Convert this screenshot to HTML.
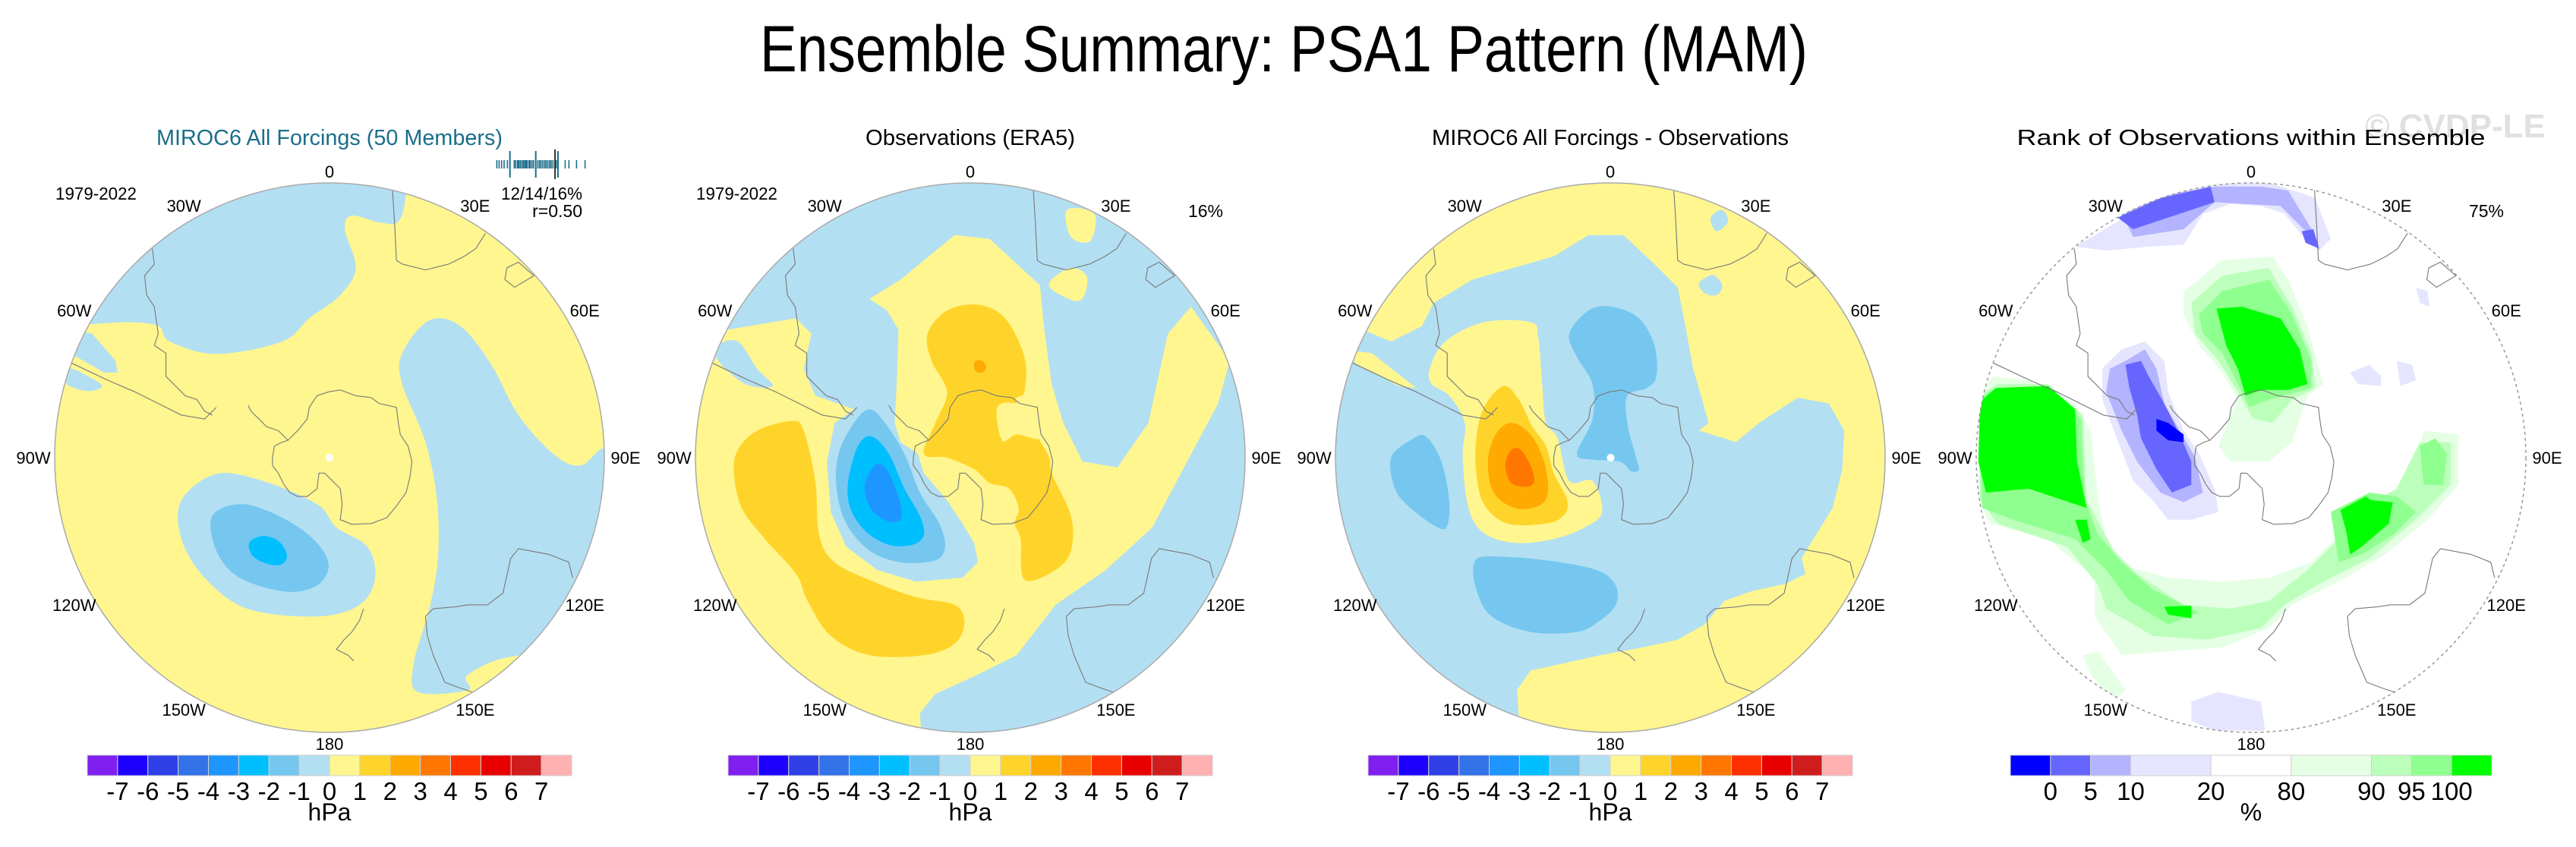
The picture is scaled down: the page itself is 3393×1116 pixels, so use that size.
<!DOCTYPE html>
<html><head><meta charset="utf-8"><title>Ensemble Summary: PSA1 Pattern (MAM)</title>
<style>html,body{margin:0;padding:0;background:#fff}svg{display:block}text{font-family:"Liberation Sans",sans-serif}</style>
</head><body>
<svg id="fig" width="3393" height="1116" viewBox="0 0 3393 1116" xmlns="http://www.w3.org/2000/svg">
<rect width="3393" height="1116" fill="#fff"/>
<text x="1691" y="94" font-size="86" text-anchor="middle" textLength="1380" lengthAdjust="spacingAndGlyphs">Ensemble Summary: PSA1 Pattern (MAM)</text>
<text x="3234" y="181" font-size="44" font-weight="bold" fill="#e0e0e0" text-anchor="middle">© CVDP-LE</text>
<g id="panels"></g>
</svg>
<script>
// ---- data arrays ----
const hpaLabels = ["-7","-6","-5","-4","-3","-2","-1","0","1","2","3","4","5","6","7"];
const hpaColors = ["#8020f0","#1e00ff","#2f40e8","#3472ea","#1e96ff","#00bfff","#75c7f0","#b3dff2","#fff68f","#ffd42a","#ffaa00","#ff7700","#ff3000","#e80000","#cf1c1c","#ffb0b0"];
const rankLabels = ["0","5","10","20","80","90","95","100"];
const rankUnits = [1,1,1,2,2,2,1,1,1];
const rankColors = ["#0000ff","#6666ff","#b3b3ff","#e5e5ff","#ffffff","#e5ffe5","#bbffbb","#8fff8f","#00ff00"];
const memberValues = [0.096,0.116,0.138,0.160,0.189,0.249,0.262,0.278,0.289,0.302,0.316,0.329,0.340,0.351,0.362,0.378,0.389,0.404,0.418,0.456,0.471,0.484,0.5,0.516,0.529,0.544,0.560,0.573,0.589,0.618,0.696,0.729,0.796,0.871];
const summaryValues = [0.211,0.438,0.633];
const obsValue = 0.607;
const lonLabels = ["0","30E","60E","90E","120E","150E","180","150W","120W","90W","60W","30W"];
const lonAngles = [0,30,60,90,120,150,180,210,240,270,300,330];

const NS="http://www.w3.org/2000/svg";
const root=document.getElementById('panels');
function el(tag,attrs,parent){const e=document.createElementNS(NS,tag);for(const k in attrs)e.setAttribute(k,attrs[k]);(parent||root).appendChild(e);return e;}
function smooth(pts){let n=pts.length,d="M"+pts[0][0]+","+pts[0][1];for(let i=0;i<n;i++){const p0=pts[(i-1+n)%n],p1=pts[i],p2=pts[(i+1)%n],p3=pts[(i+2)%n];const c1=[p1[0]+(p2[0]-p0[0])/6,p1[1]+(p2[1]-p0[1])/6],c2=[p2[0]-(p3[0]-p1[0])/6,p2[1]-(p3[1]-p1[1])/6];d+=" C"+c1[0].toFixed(1)+","+c1[1].toFixed(1)+" "+c2[0].toFixed(1)+","+c2[1].toFixed(1)+" "+p2[0]+","+p2[1];}return d+"Z";}
function poly(pts){return "M"+pts.map(p=>p.join(",")).join(" L")+"Z";}
function line(pts){return "M"+pts.map(p=>p.join(",")).join(" L");}

const C={lb:"#b3dff2",mb:"#75c7f0",cy:"#00bfff",b3:"#1e96ff",ye:"#fff68f",go:"#ffd42a",or:"#ffaa00",o2:"#ff7700"};
const panels=[
 {name:"model",ox:40,oy:200,zc:[772,790],cx:434,title:"MIROC6 All Forcings (50 Members)",tcol:"#1a6e8a",tw:456,bg:C.ye,dot:true,shapes:[
  [C.lb,"s",[[100,440],[150,445],[250,440],[330,450],[360,490],[480,522],[650,490],[720,430],[800,370],[840,300],[812,200],[830,165],[900,182],[950,180],[970,110],[980,-20],[-50,-20],[-50,440]]],
  [C.lb,"p",[[120,460],[160,470],[220,540],[225,570],[190,570],[120,530],[60,520]]],
  [C.lb,"s",[[100,560],[150,580],[185,605],[150,618],[95,600]]],
  [C.lb,"s",[[960,520],[1030,435],[1110,450],[1190,550],[1260,680],[1350,780],[1420,810],[1490,760],[1620,760],[1620,1300],[1270,1300],[1130,1350],[1130,1390],[1000,1395],[990,1320],[1030,1180],[1052,1050],[1050,900],[1020,750],[960,600]]],
  [C.lb,"s",[[390,900],[480,832],[600,850],[740,910],[790,970],[870,1020],[890,1100],[850,1170],[740,1200],[560,1180],[450,1100],[390,1000]]],
  [C.mb,"s",[[470,940],[550,910],[660,950],[740,1010],[770,1070],[740,1120],[660,1136],[540,1100],[480,1030]]],
  [C.cy,"s",[[565,1010],[600,992],[640,1005],[662,1040],[650,1065],[615,1065],[575,1045]]]
 ]},
 {name:"observations",ox:880,oy:200,zc:[780,790],cx:1278,title:"Observations (ERA5)",tcol:"#000",tw:276,bg:C.lb,dot:false,extra:"16%",shapes:[
  [C.ye,"p",[[520,380],[600,330],[740,215],[830,225],[960,345],[970,450],[990,600],[1020,700],[1070,800],[1160,815],[1240,700],[1290,470],[1350,400],[1450,540],[1420,650],[1340,800],[1250,970],[1130,1080],[1000,1170],[900,1300],[800,1350],[690,1400],[650,1450],[660,1600],[-100,1600],[-100,540],[120,540],[150,460],[330,430],[370,470],[350,560],[380,630],[480,665],[430,700],[410,800],[420,930],[460,1020],[540,1080],[640,1110],[760,1100],[800,1060],[790,1010],[760,960],[720,900],[660,830],[645,780],[600,750],[585,700],[590,600],[595,460],[565,410]]],
  [C.lb,"s",[[130,500],[180,490],[230,560],[270,605],[200,600],[130,540]]],
  [C.ye,"s",[[1030,150],[1100,160],[1090,230],[1040,220]]],
  [C.ye,"s",[[990,330],[1040,300],[1080,320],[1075,370],[1050,385],[990,355]]],
  [C.go,"s",[[670,470],[720,410],[800,395],[870,430],[920,530],[920,620],[900,650],[980,780],[990,830],[1040,940],[1040,1030],[1000,1080],[920,1105],[910,1000],[895,960],[905,920],[880,870],[830,855],[790,820],[720,790],[660,780],[690,700],[720,620],[680,540]]],
  [C.ye,"s",[[850,660],[900,650],[950,680],[960,740],[900,730],[862,745]]],
  [C.go,"s",[[180,770],[230,720],[320,695],[350,720],[380,850],[390,990],[430,1060],[530,1110],[640,1150],[740,1170],[765,1215],[740,1270],[660,1300],[520,1300],[420,1250],[360,1160],[330,1090],[250,1000],[190,920],[170,830]]],
  [C.or,"s",[[790,545],[805,538],[820,550],[815,568],[795,568]]],
  [C.mb,"s",[[440,780],[480,700],[520,665],[560,700],[610,780],[650,880],[700,960],[715,1020],[690,1055],[600,1060],[520,1030],[460,960],[435,870]]],
  [C.cy,"s",[[465,850],[490,760],[525,735],[570,780],[610,870],[650,940],[660,990],[630,1015],[570,1015],[510,980],[470,920]]],
  [C.b3,"s",[[510,850],[540,805],[570,830],[600,910],[600,950],[570,955],[530,930],[510,890]]]
 ]},
 {name:"difference",ox:1720,oy:200,zc:[787,790],cx:2121,title:"MIROC6 All Forcings - Observations",tcol:"#000",tw:470,bg:C.lb,dot:true,shapes:[
  [C.ye,"p",[[160,465],[220,490],[300,450],[330,390],[430,330],[640,270],[730,215],[820,215],[900,290],[960,350],[980,450],[1000,560],[1040,700],[1015,720],[1080,740],[1110,750],[1170,700],[1270,635],[1350,650],[1390,720],[1385,820],[1360,920],[1310,1000],[1280,1050],[1290,1090],[1240,1115],[1150,1135],[1080,1160],[1030,1220],[960,1260],[870,1280],[760,1300],[580,1340],[545,1390],[560,1600],[1700,1600],[1700,-100],[-100,-100],[-100,465]]],
  [C.lb,"s",[[1045,170],[1075,150],[1090,180],[1060,205]]],
  [C.lb,"s",[[1015,340],[1050,318],[1075,345],[1060,370],[1030,365]]],
  [C.ye,"p",[[125,515],[170,520],[240,575],[285,610],[240,605],[125,545]]],
  [C.ye,"s",[[320,560],[360,490],[460,440],[580,440],[600,480],[610,600],[620,700],[650,740],[680,850],[740,850],[765,930],[720,970],[640,1000],[540,1010],[460,985],[420,920],[405,790],[410,700],[370,630],[325,600]]],
  [C.go,"s",[[440,740],[460,660],[510,605],[550,640],[585,710],[620,760],[640,830],[675,900],[665,940],[620,960],[520,960],[460,910],[440,830]]],
  [C.or,"s",[[470,800],[490,730],[530,700],[580,730],[615,800],[625,880],[600,915],[540,920],[485,880]]],
  [C.o2,"s",[[515,810],[530,770],[555,770],[580,810],[590,850],[570,865],[530,855]]],
  [C.mb,"s",[[680,470],[730,410],[790,400],[860,430],[900,500],[905,580],[880,610],[830,630],[830,700],[850,780],[860,820],[840,825],[810,800],[740,795],[700,780],[740,690],[740,600],[700,530]]],
  [C.mb,"s",[[220,790],[270,745],[310,735],[350,800],[370,900],[365,965],[340,970],[270,920],[230,870]]],
  [C.mb,"s",[[435,1060],[480,1045],[620,1055],[750,1080],[800,1120],[800,1170],[760,1210],[700,1240],[580,1240],[480,1200],[440,1130]]]
 ]},
 {name:"rank",ox:2570,oy:200,zc:[775,790],cx:2965,title:"Rank of Observations within Ensemble",tcol:"#000",tw:617,bg:"#fff",dot:false,dashed:true,extra:"75%",shapes:[
  ["#e5e5ff","p",[[320,245],[430,180],[560,110],[700,80],[820,80],[900,105],[940,120],[980,225],[950,255],[910,220],[860,160],[800,140],[720,135],[650,160],[600,240],[510,245],[400,255]]],
  ["#b3b3ff","p",[[440,160],[560,110],[680,90],[800,90],[870,100],[900,150],[940,215],[910,200],[850,140],[680,130],[600,200],[470,220]]],
  ["#6666ff","p",[[430,170],[540,120],[670,90],[680,130],[560,170],[470,200]]],
  ["#6666ff","p",[[905,205],[935,200],[950,250],[915,235]]],
  ["#e5e5ff","p",[[390,560],[440,510],[500,490],[550,540],[560,620],[600,720],[640,780],[680,870],[690,930],[620,950],[560,950],[520,900],[470,850],[420,720],[390,640]]],
  ["#b3b3ff","p",[[410,560],[450,540],[500,510],[530,560],[550,650],[590,720],[630,790],[650,880],[600,905],[540,880],[480,800],[440,720],[400,620]]],
  ["#6666ff","p",[[450,550],[490,540],[510,580],[550,650],[590,730],[620,800],[620,860],[570,880],[530,820],[490,740],[480,680],[460,610]]],
  ["#0000ff","p",[[530,690],[560,700],[600,730],[600,750],[560,745],[530,720]]],
  ["#e5e5ff","p",[[1030,570],[1080,550],[1110,580],[1110,605],[1050,600]]],
  ["#e5e5ff","p",[[1150,540],[1190,550],[1200,590],[1160,605]]],
  ["#e5e5ff","p",[[1200,350],[1230,360],[1235,400],[1210,390]]],
  ["#e5ffe5","p",[[70,620],[110,580],[200,590],[320,650],[360,720],[380,900],[400,1000],[450,1070],[560,1100],[700,1110],[820,1100],[930,1060],[990,1000],[1050,940],[1150,880],[1200,800],[1220,720],[1310,730],[1310,860],[1230,950],[1120,1040],[1000,1110],[880,1170],[820,1230],[700,1280],[560,1290],[440,1300],[370,1200],[370,1100],[250,1000],[100,960],[70,900]]],
  ["#bbffbb","p",[[70,630],[120,600],[250,600],[340,680],[350,900],[420,1030],[480,1090],[600,1170],[720,1180],[820,1160],[920,1080],[1000,1000],[1060,920],[1150,870],[1210,750],[1290,750],[1290,860],[1200,950],[1080,1050],[960,1110],[860,1170],[800,1230],[660,1260],[520,1250],[400,1180],[380,1120],[300,1020],[120,960],[75,900]]],
  ["#8fff8f","p",[[70,640],[115,610],[250,605],[335,690],[345,900],[380,990],[440,1060],[520,1130],[640,1190],[560,1220],[460,1160],[400,1080],[320,1000],[160,950],[80,920]]],
  ["#8fff8f","p",[[980,930],[1080,880],[1150,890],[1200,930],[1140,990],[1060,1040],[1000,1060]]],
  ["#8fff8f","p",[[1210,760],[1250,740],[1280,780],[1270,860],[1220,860]]],
  ["#00ff00","p",[[75,645],[115,610],[250,605],[320,665],[325,800],[350,920],[290,900],[200,870],[90,880],[70,800]]],
  ["#00ff00","p",[[320,950],[350,950],[360,1000],[340,1010]]],
  ["#00ff00","p",[[1005,925],[1070,890],[1085,900],[1140,905],[1130,960],[1060,1020],[1030,1040],[1020,980]]],
  ["#00ff00","p",[[550,1175],[620,1172],[620,1205],[560,1195]]],
  ["#e5ffe5","p",[[600,360],[700,280],[830,270],[870,330],[920,450],[960,600],[920,630],[880,750],[820,800],[720,800],[690,760],[720,680],[740,640],[700,570],[640,500],[600,420]]],
  ["#bbffbb","p",[[620,390],[700,320],[820,300],[880,400],[930,520],[940,610],[880,640],[830,700],[780,690],[740,620],[690,540],[630,470]]],
  ["#8fff8f","p",[[640,420],[700,360],[820,330],[880,420],[930,540],[930,610],[820,640],[770,660],[740,600],[700,520],[650,470]]],
  ["#00ff00","p",[[685,405],[750,400],[850,430],[900,510],[920,600],[870,615],[800,615],[760,630],[740,560],[710,500]]],
  ["#e5e5ff","p",[[620,1420],[690,1395],[800,1420],[810,1495],[680,1495],[620,1470]]],
  ["#e5ffe5","p",[[340,1300],[380,1290],[450,1390],[420,1420],[360,1350]]]
 ]}
];
// coastlines relative to panel centre (zoom units)
const coastBase=[772,790];
const coasts=[
 {name:"antarctica",closed:true,pts:[[665,745],[690,720],[715,690],[720,660],[740,630],[770,620],[800,615],[840,630],[880,635],[900,650],[945,660],[950,700],[955,730],[975,760],[985,800],[980,840],[970,880],[945,915],[920,945],[880,960],[830,962],[800,950],[805,910],[800,870],[780,850],[760,830],[745,830],[740,870],[715,890],[690,890],[670,880],[655,860],[640,830],[625,810],[625,790],[630,760],[650,750]]},
 {name:"antarctic-peninsula",pts:[[665,745],[640,720],[610,710],[590,690],[570,670],[562,655]]},
 {name:"south-america-west",pts:[[105,545],[200,590],[270,620],[330,650],[390,680],[450,690],[480,660]]},
 {name:"south-america-east",pts:[[315,250],[320,290],[295,320],[300,370],[320,400],[330,470],[320,500],[350,520],[350,580],[380,610],[400,630],[430,640],[450,670],[470,680]]},
 {name:"africa",pts:[[935,100],[940,180],[945,280],[960,290],[1020,305],[1080,290],[1120,270],[1150,250],[1175,210]]},
 {name:"madagascar",closed:true,pts:[[1230,300],[1260,285],[1300,320],[1250,350],[1225,330]]},
 {name:"australia-south",pts:[[1040,1180],[1020,1200],[1025,1250],[1040,1300],[1070,1370],[1110,1385],[1140,1395]]},
 {name:"australia-north",pts:[[1040,1180],[1100,1175],[1130,1170],[1180,1170],[1220,1140],[1240,1050],[1260,1025],[1340,1040],[1390,1060],[1400,1100]]},
 {name:"new-zealand",pts:[[860,1180],[850,1210],[830,1240],[810,1260],[790,1285],[820,1300],[835,1315]]}
];
const S=800/1568, R=362, CY=603;
panels.forEach((p,pi)=>{
  const g=el('g',{});
  
  
  const cid='clip'+pi;
  const defs=el('defs',{},g);
  const cp=el('clipPath',{id:cid},defs);
  el('circle',{cx:p.zc[0],cy:p.zc[1],r:710},cp);
  const m=el('g',{transform:`translate(${p.ox},${p.oy}) scale(${S})`,'clip-path':`url(#${cid})`},g);
  
  
  const bg=el('circle',{cx:p.zc[0],cy:p.zc[1],r:712,fill:p.bg},m);
  p.shapes.forEach((s,si)=>{
    const path=el('path',{d:s[1]==="s"?smooth(s[2]):poly(s[2]),fill:s[0]},m);
    
    
  });
  const dx=p.zc[0]-coastBase[0], dy=p.zc[1]-coastBase[1];
  coasts.forEach(c=>{
    const pts=c.pts.map(q=>[q[0]+dx,q[1]+dy]);
    const cl=el('path',{d:c.closed?poly(pts):line(pts),fill:"none",stroke:"#7a7a7a","stroke-width":2.2,"stroke-linejoin":"round"},m);
    
    
  });
  if(p.dot){const d=el('circle',{cx:p.zc[0],cy:p.zc[1],r:10,fill:"#fff"},m);}
  const rim=el('circle',{cx:p.cx,cy:CY,r:R,fill:"none",stroke:p.dashed?"#999":"#aaa","stroke-width":1.5,"stroke-dasharray":p.dashed?"4 4":"none"},g);
  
  
  // titles
  const t=el('text',{x:p.cx,y:191,"font-size":29,"text-anchor":"middle",fill:p.tcol,textLength:p.tw,lengthAdjust:"spacingAndGlyphs"},g);
  t.textContent=p.title;
  
  
  if(pi<2){const y=el('text',{x:p.cx-361,y:263,"font-size":23,textLength:107,lengthAdjust:"spacingAndGlyphs"},g);y.textContent="1979-2022";}
  if(p.extra){const e=el('text',{x:p.cx+333,y:286,"font-size":23,"text-anchor":"end"},g);e.textContent=p.extra;}
  // lon labels
  lonLabels.forEach((lab,i)=>{
    const a=lonAngles[i]*Math.PI/180, d=R+15+13*Math.abs(Math.sin(a));
    const tx=el('text',{x:(p.cx+d*Math.sin(a)).toFixed(1),y:(CY-d*Math.cos(a)+8).toFixed(1),"font-size":22,"text-anchor":"middle"},g);
    tx.textContent=lab;
    
    
  });
  // colorbar
  const cb=el('g',{},g);
  
  
  if(pi<3){
    const x0=p.cx-319,w=638/hpaColors.length;
    hpaColors.forEach((c,i)=>{const r=el('rect',{x:x0+i*w,y:995,width:w,height:27,fill:c,stroke:"#d0d0d0","stroke-width":1},cb);});
    hpaLabels.forEach((l,i)=>{const tt=el('text',{x:x0+(i+1)*w,y:1054,"font-size":33,"text-anchor":"middle"},cb);tt.textContent=l;});
    const u=el('text',{x:p.cx,y:1081,"font-size":32,"text-anchor":"middle"},cb);u.textContent="hPa";
  } else {
    const x0=2648,tot=rankUnits.reduce((a,b)=>a+b,0),uw=634/tot;let acc=0;const bounds=[];
    rankColors.forEach((c,i)=>{const r=el('rect',{x:x0+acc*uw,y:995,width:rankUnits[i]*uw,height:27,fill:c,stroke:"#d0d0d0","stroke-width":1},cb);acc+=rankUnits[i];bounds.push(x0+acc*uw);});
    rankLabels.forEach((l,i)=>{const tt=el('text',{x:bounds[i],y:1054,"font-size":33,"text-anchor":"middle"},cb);tt.textContent=l;});
    const u=el('text',{x:p.cx,y:1081,"font-size":32,"text-anchor":"middle"},cb);u.textContent="%";
  }
  if(pi===0){
    const bx=v=>640+v*150;
    const bc=el('g',{},g);
    
    
    memberValues.forEach(v=>{const l=el('line',{x1:bx(v),x2:bx(v),y1:211,y2:222,stroke:"#1a6e8a","stroke-width":1.6},bc);});
    summaryValues.forEach(v=>{const l=el('line',{x1:bx(v),x2:bx(v),y1:199,y2:234,stroke:"#1a6e8a","stroke-width":2},bc);});
    const o=el('line',{x1:bx(obsValue),x2:bx(obsValue),y1:197,y2:236,stroke:"#333","stroke-width":2},bc);
    
    
    const s1=el('text',{x:767,y:263,"font-size":23,"text-anchor":"end",textLength:107,lengthAdjust:"spacingAndGlyphs"},g);s1.textContent="12/14/16%";
    const s2=el('text',{x:767,y:286,"font-size":23,"text-anchor":"end"},g);s2.textContent="r=0.50";
  }
});
</script>
</body></html>
